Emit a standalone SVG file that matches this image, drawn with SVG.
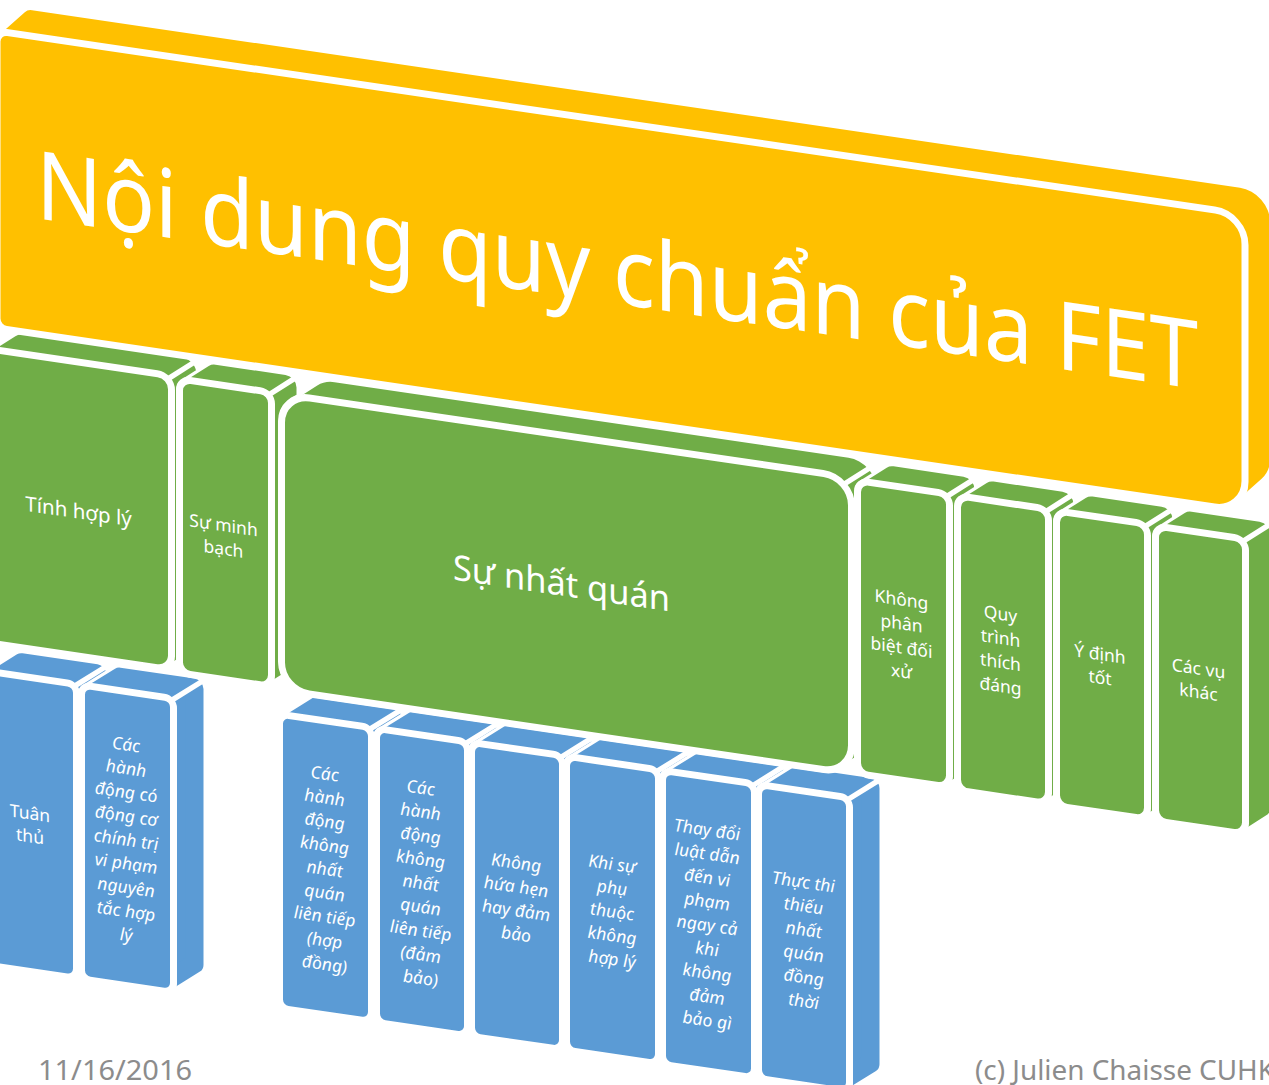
<svg xmlns="http://www.w3.org/2000/svg" width="1269" height="1085" viewBox="0 0 1269 1085">
<style>
.hw{fill:#fff;stroke:#fff;stroke-linejoin:round}
.bh{fill:#5B9BD5;stroke:#5B9BD5;stroke-linejoin:round}
.bf{fill:#5B9BD5;stroke:#fff;stroke-width:7}
.gh{fill:#70AD47;stroke:#70AD47;stroke-linejoin:round}
.gf{fill:#70AD47;stroke:#fff;stroke-width:7}
.oh{fill:#FFC000}
.of{fill:#FFC000;stroke:#fff;stroke-width:7}
.edge{stroke:#fff;stroke-width:5;stroke-linecap:round}
.t{font-family:"Noto Sans","DejaVu Sans",sans-serif;fill:#fff;text-anchor:middle;font-size:17.5px}
.i{font-style:italic}
.ft{font-family:"Noto Sans","DejaVu Sans",sans-serif;fill:#8c8c8c;font-size:28px}
</style>
<rect width="1269" height="1085" fill="#fff"/>
<g transform="matrix(1 0.147 0 1 0 0)">
<!-- Blue row -->
<g id="tuan-thu">
<polygon class="hw" stroke-width="24" points="-7.5,958 -7.5,682 22.5,659 97.5,659 97.5,935 67.5,958"/>
<polygon class="bh" stroke-width="18" points="-7.5,958 -7.5,682 22.5,659 97.5,659 97.5,935 67.5,958"/>
<rect class="bf" x="-16.5" y="673" width="93" height="294" rx="9"/>
<line class="edge" x1="73.9" y1="675.6" x2="103.9" y2="652.6"/>
<text class="t"><tspan x="30" y="815">Tuân</tspan><tspan x="30" y="838">thủ</tspan></text>
</g>
<g id="dong-co-chinh-tri">
<polygon class="hw" stroke-width="24" points="90.5,958 90.5,682 120.5,659 194.5,659 194.5,935 164.5,958"/>
<polygon class="bh" stroke-width="18" points="90.5,958 90.5,682 120.5,659 194.5,659 194.5,935 164.5,958"/>
<rect class="bf" x="81.5" y="673" width="92" height="294" rx="9"/>
<line class="edge" x1="170.9" y1="675.6" x2="200.9" y2="652.6"/>
<text class="t i"><tspan x="126" y="732">Các</tspan><tspan x="126" y="755.8">hành</tspan><tspan x="126" y="779.6">động có</tspan><tspan x="126" y="803.4">động cơ</tspan><tspan x="126" y="827.2">chính trị</tspan><tspan x="126" y="851">vi phạm</tspan><tspan x="126" y="874.8">nguyên</tspan><tspan x="126" y="898.6">tắc hợp</tspan><tspan x="126" y="922.4">lý</tspan></text>
</g>
<g id="hop-dong">
<polygon class="hw" stroke-width="24" points="288.5,958 288.5,682 318.5,659 392.5,659 392.5,935 362.5,958"/>
<polygon class="bh" stroke-width="18" points="288.5,958 288.5,682 318.5,659 392.5,659 392.5,935 362.5,958"/>
<rect class="bf" x="279.5" y="673" width="92" height="294" rx="9"/>
<line class="edge" x1="368.9" y1="675.6" x2="398.9" y2="652.6"/>
<text class="t i"><tspan x="324.5" y="732">Các</tspan><tspan x="324.5" y="755.8">hành</tspan><tspan x="324.5" y="779.6">động</tspan><tspan x="324.5" y="803.4">không</tspan><tspan x="324.5" y="827.2">nhất</tspan><tspan x="324.5" y="851">quán</tspan><tspan x="324.5" y="874.8">liên tiếp</tspan><tspan x="324.5" y="898.6">(hợp</tspan><tspan x="324.5" y="922.4">đồng)</tspan></text>
</g>
<g id="dam-bao">
<polygon class="hw" stroke-width="24" points="385.5,958 385.5,682 415.5,659 488.5,659 488.5,935 458.5,958"/>
<polygon class="bh" stroke-width="18" points="385.5,958 385.5,682 415.5,659 488.5,659 488.5,935 458.5,958"/>
<rect class="bf" x="376.5" y="673" width="91" height="294" rx="9"/>
<line class="edge" x1="464.9" y1="675.6" x2="494.9" y2="652.6"/>
<text class="t i"><tspan x="420.5" y="732">Các</tspan><tspan x="420.5" y="755.8">hành</tspan><tspan x="420.5" y="779.6">động</tspan><tspan x="420.5" y="803.4">không</tspan><tspan x="420.5" y="827.2">nhất</tspan><tspan x="420.5" y="851">quán</tspan><tspan x="420.5" y="874.8">liên tiếp</tspan><tspan x="420.5" y="898.6">(đảm</tspan><tspan x="420.5" y="922.4">bảo)</tspan></text>
</g>
<g id="khong-hua-hen">
<polygon class="hw" stroke-width="24" points="480.5,958 480.5,682 510.5,659 583.5,659 583.5,935 553.5,958"/>
<polygon class="bh" stroke-width="18" points="480.5,958 480.5,682 510.5,659 583.5,659 583.5,935 553.5,958"/>
<rect class="bf" x="471.5" y="673" width="91" height="294" rx="9"/>
<line class="edge" x1="559.9" y1="675.6" x2="589.9" y2="652.6"/>
<text class="t i"><tspan x="516" y="793">Không</tspan><tspan x="516" y="816.8">hứa hẹn</tspan><tspan x="516" y="840.6">hay đảm</tspan><tspan x="516" y="864.4">bảo</tspan></text>
</g>
<g id="phu-thuoc">
<polygon class="hw" stroke-width="24" points="575.5,958 575.5,682 605.5,659 679.5,659 679.5,935 649.5,958"/>
<polygon class="bh" stroke-width="18" points="575.5,958 575.5,682 605.5,659 679.5,659 679.5,935 649.5,958"/>
<rect class="bf" x="566.5" y="673" width="92" height="294" rx="9"/>
<line class="edge" x1="655.9" y1="675.6" x2="685.9" y2="652.6"/>
<text class="t i"><tspan x="612" y="780">Khi sự</tspan><tspan x="612" y="803.8">phụ</tspan><tspan x="612" y="827.6">thuộc</tspan><tspan x="612" y="851.4">không</tspan><tspan x="612" y="875.2">hợp lý</tspan></text>
</g>
<g id="thay-doi-luat">
<polygon class="hw" stroke-width="24" points="671.5,958 671.5,682 701.5,659 775.5,659 775.5,935 745.5,958"/>
<polygon class="bh" stroke-width="18" points="671.5,958 671.5,682 701.5,659 775.5,659 775.5,935 745.5,958"/>
<rect class="bf" x="662.5" y="673" width="92" height="294" rx="9"/>
<line class="edge" x1="751.9" y1="675.6" x2="781.9" y2="652.6"/>
<text class="t i"><tspan x="707" y="732">Thay đổi</tspan><tspan x="707" y="755.8">luật dẫn</tspan><tspan x="707" y="779.6">đến vi</tspan><tspan x="707" y="803.4">phạm</tspan><tspan x="707" y="827.2">ngay cả</tspan><tspan x="707" y="851">khi</tspan><tspan x="707" y="874.8">không</tspan><tspan x="707" y="898.6">đảm</tspan><tspan x="707" y="922.4">bảo gì</tspan></text>
</g>
<g id="thuc-thi">
<polygon class="hw" stroke-width="24" points="767.5,958 767.5,682 797.5,659 870.5,659 870.5,935 840.5,958"/>
<polygon class="bh" stroke-width="18" points="767.5,958 767.5,682 797.5,659 870.5,659 870.5,935 840.5,958"/>
<rect class="bf" x="758.5" y="673" width="91" height="294" rx="9"/>
<line class="edge" x1="846.9" y1="675.6" x2="876.9" y2="652.6"/>
<text class="t i"><tspan x="803.5" y="770">Thực thi</tspan><tspan x="803.5" y="793.8">thiếu</tspan><tspan x="803.5" y="817.6">nhất</tspan><tspan x="803.5" y="841.4">quán</tspan><tspan x="803.5" y="865.2">đồng</tspan><tspan x="803.5" y="889">thời</tspan></text>
</g>
<!-- Green row -->
<g id="tinh-hop-ly">
<polygon class="hw" stroke-width="34" points="-1,630.5 -1,364.5 24,345 182.5,345 182.5,611 157.5,630.5"/>
<polygon class="gh" stroke-width="28" points="-1,630.5 -1,364.5 24,345 182.5,345 182.5,611 157.5,630.5"/>
<rect class="gf" x="-15" y="350.5" width="186.5" height="294" rx="14"/>
<line class="edge" x1="167.4" y1="354.6" x2="192.4" y2="335.1"/>
<text class="t" style="font-size:20.5px" x="78.5" y="507">Tính hợp lý</text>
</g>
<g id="su-minh-bach">
<polygon class="hw" stroke-width="28" points="190.5,635.5 190.5,363.5 215.5,344 285.5,344 285.5,616 260.5,635.5"/>
<polygon class="gh" stroke-width="22" points="190.5,635.5 190.5,363.5 215.5,344 285.5,344 285.5,616 260.5,635.5"/>
<rect class="gf" x="179.5" y="352.5" width="92" height="294" rx="11"/>
<line class="edge" x1="268.3" y1="355.7" x2="293.3" y2="336.2"/>
<text class="t"><tspan x="223.5" y="498.5">Sự minh</tspan><tspan x="223.5" y="522">bạch</tspan></text>
</g>
<g id="su-nhat-quan">
<polygon class="hw" stroke-width="62" points="309.5,620.5 309.5,380.5 334.5,361 848.5,361 848.5,601 823.5,620.5"/>
<polygon class="gh" stroke-width="56" points="309.5,620.5 309.5,380.5 334.5,361 848.5,361 848.5,601 823.5,620.5"/>
<rect class="gf" x="281.5" y="352.5" width="570" height="296" rx="28"/>
<line class="edge" x1="843.3" y1="360.7" x2="868.3" y2="341.2"/>
<text class="t" style="font-size:35px;text-anchor:start" x="453" y="513" textLength="217" lengthAdjust="spacingAndGlyphs">Sự nhất quán</text>
</g>
<g id="khong-phan-biet">
<polygon class="hw" stroke-width="28" points="868.5,636.5 868.5,365.5 893.5,346 963.5,346 963.5,617 938.5,636.5"/>
<polygon class="gh" stroke-width="22" points="868.5,636.5 868.5,365.5 893.5,346 963.5,346 963.5,617 938.5,636.5"/>
<rect class="gf" x="857.5" y="354.5" width="92" height="293" rx="11"/>
<line class="edge" x1="946.3" y1="357.7" x2="971.3" y2="338.2"/>
<text class="t"><tspan x="901.5" y="473">Không</tspan><tspan x="901.5" y="497">phân</tspan><tspan x="901.5" y="521">biệt đối</tspan><tspan x="901.5" y="545">xử</tspan></text>
</g>
<g id="quy-trinh">
<polygon class="hw" stroke-width="28" points="968.5,638.5 968.5,366 993.5,346.5 1062.5,346.5 1062.5,619 1037.5,638.5"/>
<polygon class="gh" stroke-width="22" points="968.5,638.5 968.5,366 993.5,346.5 1062.5,346.5 1062.5,619 1037.5,638.5"/>
<rect class="gf" x="957.5" y="355" width="91" height="294.5" rx="11"/>
<line class="edge" x1="1045.3" y1="358.2" x2="1070.3" y2="338.7"/>
<text class="t"><tspan x="1000.5" y="473">Quy</tspan><tspan x="1000.5" y="497">trình</tspan><tspan x="1000.5" y="521">thích</tspan><tspan x="1000.5" y="545">đáng</tspan></text>
</g>
<g id="y-dinh-tot">
<polygon class="hw" stroke-width="28" points="1067.5,639.5 1067.5,366.5 1092.5,347 1161.5,347 1161.5,620 1136.5,639.5"/>
<polygon class="gh" stroke-width="22" points="1067.5,639.5 1067.5,366.5 1092.5,347 1161.5,347 1161.5,620 1136.5,639.5"/>
<rect class="gf" x="1056.5" y="355.5" width="91" height="295" rx="11"/>
<line class="edge" x1="1144.3" y1="358.7" x2="1169.3" y2="339.2"/>
<text class="t"><tspan x="1100" y="498.5">Ý định</tspan><tspan x="1100" y="522">tốt</tspan></text>
</g>
<g id="cac-vu-khac">
<polygon class="hw" stroke-width="28" points="1166.5,640 1166.5,367 1191.5,347.5 1259.5,347.5 1259.5,620.5 1234.5,640"/>
<polygon class="gh" stroke-width="22" points="1166.5,640 1166.5,367 1191.5,347.5 1259.5,347.5 1259.5,620.5 1234.5,640"/>
<rect class="gf" x="1155.5" y="356" width="90" height="295" rx="11"/>
<line class="edge" x1="1242.3" y1="359.2" x2="1267.3" y2="339.7"/>
<text class="t"><tspan x="1198.5" y="498.5">Các vụ</tspan><tspan x="1198.5" y="522">khác</tspan></text>
</g>
<!-- Orange top block -->
<g id="noi-dung-fet">
<path class="oh" d="M -3 318.5 V 41.5 A 10 10 0 0 1 -0.21 34.57 L 24.79 8.57 A 10 10 0 0 1 32 5.5 H 1240 A 30 30 0 0 1 1270 35.5 V 272.5 A 30 30 0 0 1 1261.6 293.3 L 1236.6 319.3 A 30 30 0 0 1 1215 328.5 H 7 A 10 10 0 0 1 -3 318.5 Z"/>
<path class="of" d="M 7 31.5 H 1215 A 30 30 0 0 1 1245 61.5 V 298.5 A 30 30 0 0 1 1215 328.5 H 7 A 10 10 0 0 1 -3 318.5 V 41.5 A 10 10 0 0 1 7 31.5 Z"/>
<text class="t" style="font-size:95px;text-anchor:start" x="36" y="213" textLength="1162" lengthAdjust="spacingAndGlyphs">Nội dung quy chuẩn của FET</text>
</g>
</g>
<g id="connectors"/>
<g id="footer">
<text class="ft" x="38" y="1080" textLength="154" lengthAdjust="spacingAndGlyphs">11/16/2016</text>
<text class="ft" x="975" y="1080" textLength="300" lengthAdjust="spacingAndGlyphs">(c) Julien Chaisse CUHK</text>
</g>
</svg>
